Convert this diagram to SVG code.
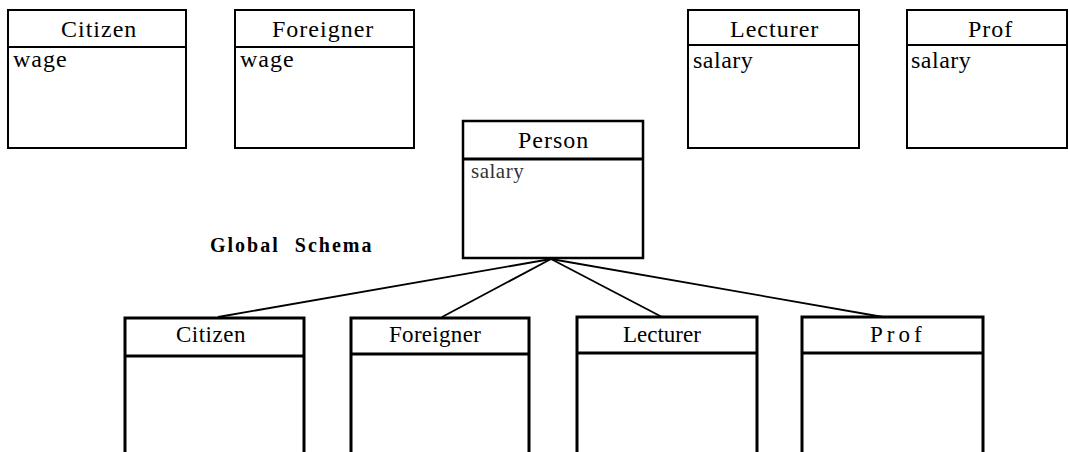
<svg xmlns="http://www.w3.org/2000/svg" width="1069" height="452" viewBox="0 0 1069 452">
<style>
.box{fill:#fff;stroke:#000;stroke-width:2}
.thick{fill:none;stroke:#000;stroke-width:3}
text{font-family:'Liberation Serif','Times New Roman','DejaVu Serif',serif;fill:#000}
.h{font-size:24px;letter-spacing:1px}
.a{font-size:24px;letter-spacing:1px}
.s{font-size:24px;letter-spacing:0.5px}
.b{font-size:23px}
.g{font-size:20px;font-weight:bold;letter-spacing:2px;word-spacing:8px}
.c{stroke:#000;stroke-width:1.8;fill:none}
</style>
<rect width="1069" height="452" fill="#fff"/>
<g id="local-citizen">
<rect class="box" x="8" y="10" width="178" height="138"/>
<line class="box" x1="8" y1="47" x2="186" y2="47"/>
<text class="h" x="61" y="37">Citizen</text>
<text class="a" x="13" y="67">wage</text>
</g>
<g id="local-foreigner">
<rect class="box" x="235" y="10" width="179" height="138"/>
<line class="box" x1="235" y1="47" x2="414" y2="47"/>
<text class="h" x="272" y="37">Foreigner</text>
<text class="a" x="240" y="67">wage</text>
</g>
<g id="local-lecturer">
<rect class="box" x="688" y="10" width="171" height="138"/>
<line class="box" x1="688" y1="45" x2="859" y2="45"/>
<text class="h" x="730" y="37">Lecturer</text>
<text class="s" x="693" y="68">salary</text>
</g>
<g id="local-prof">
<rect class="box" x="907" y="10" width="160" height="138"/>
<line class="box" x1="907" y1="45" x2="1067" y2="45"/>
<text class="h" x="968" y="37">Prof</text>
<text class="s" x="911" y="68">salary</text>
</g>
<g id="person">
<rect class="box" x="463" y="121" width="180" height="137" style="stroke-width:2.5"/>
<line class="thick" x1="463" y1="159" x2="643" y2="159"/>
<text class="h" x="518" y="148">Person</text>
<text x="471" y="178" style="font-size:21px;letter-spacing:0.5px;fill:#333">salary</text>
</g>
<g id="label-global-schema">
<text class="g" x="210" y="252">Global Schema</text>
</g>
<g id="connectors">
<line class="c" x1="551" y1="259" x2="218" y2="317"/>
<line class="c" x1="551" y1="259" x2="442" y2="317"/>
<line class="c" x1="551" y1="259" x2="662" y2="317"/>
<line class="c" x1="551" y1="259" x2="883" y2="317"/>
</g>
<g id="global-citizen">
<path class="thick" d="M125 460 V318 H304 V460"/>
<line class="thick" x1="125" y1="356" x2="304" y2="356"/>
<text class="b" x="176" y="342" style="letter-spacing:0.5px">Citizen</text>
</g>
<g id="global-foreigner">
<path class="thick" d="M351 460 V318 H529 V460"/>
<line class="thick" x1="351" y1="354" x2="529" y2="354"/>
<text class="b" x="389" y="342" style="letter-spacing:0.3px">Foreigner</text>
</g>
<g id="global-lecturer">
<path class="thick" d="M577 460 V317 H757 V460"/>
<line class="thick" x1="577" y1="353" x2="757" y2="353"/>
<text class="b" x="623" y="342">Lecturer</text>
</g>
<g id="global-prof">
<path class="thick" d="M802 460 V317 H983 V460"/>
<line class="thick" x1="802" y1="353" x2="983" y2="353"/>
<text class="b" x="870" y="342" style="letter-spacing:4px">Prof</text>
</g>
</svg>
